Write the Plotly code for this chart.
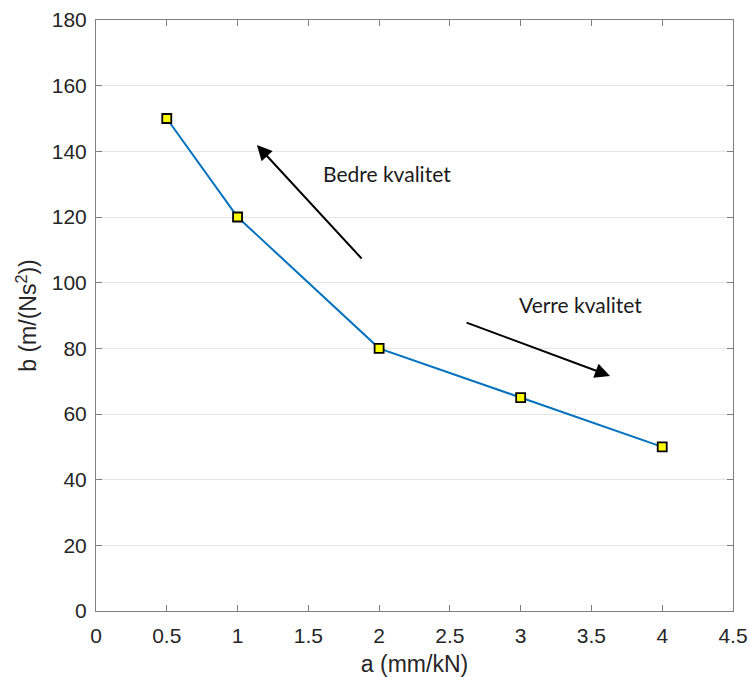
import plotly.graph_objects as go

a_vals = [0.5, 1, 2, 3, 4]
b_vals = [150, 120, 80, 65, 50]
x_ticks = [0, 0.5, 1, 1.5, 2, 2.5, 3, 3.5, 4, 4.5]
x_tick_text = ["0", "0.5", "1", "1.5", "2", "2.5", "3", "3.5", "4", "4.5"]
y_ticks = [0, 20, 40, 60, 80, 100, 120, 140, 160, 180]

fig = go.Figure()
fig.add_trace(go.Scatter(
    x=a_vals, y=b_vals, mode="lines+markers",
    line=dict(color="#0072BD", width=2),
    marker=dict(symbol="square", size=9, color="#FFFF00",
                line=dict(color="black", width=1.8)),
    showlegend=False,
))

axis_common = dict(
    showline=True, linecolor="#7f7f7f", linewidth=1, mirror="ticks",
    ticks="inside", ticklen=6, tickcolor="#7f7f7f",
    tickfont=dict(family="Liberation Sans, Arial", size=21, color="#262626"),
    zeroline=False, automargin=False,
)

fig.update_xaxes(range=[0, 4.5], tickvals=x_ticks, ticktext=x_tick_text,
                 showgrid=False, ticklabelstandoff=6,
                 title=dict(text="a (mm/kN)", font=dict(family="Liberation Sans, Arial", size=23, color="#262626"), standoff=12),
                 **axis_common)
fig.update_yaxes(range=[0, 180], tickvals=y_ticks,
                 showgrid=True, gridcolor="#e6e6e6", gridwidth=1,
                 ticklabelstandoff=4,
                 title=dict(text="b (m/(Ns<sup>2</sup>))", font=dict(family="Liberation Sans, Arial", size=23, color="#262626"), standoff=8),
                 **axis_common)

txt_font = dict(family="Lato, Carlito, Calibri, sans-serif", size=21, color="#1a1a1a")
fig.add_annotation(x=1.137, y=141.9, ax=1.886, ay=106.9, xref="x", yref="y",
                   axref="x", ayref="y", showarrow=True, arrowhead=2,
                   arrowsize=1.5, arrowwidth=2, arrowcolor="black", text="")
fig.add_annotation(x=3.631, y=71.6, ax=2.607, ay=88.0, xref="x", yref="y",
                   axref="x", ayref="y", showarrow=True, arrowhead=2,
                   arrowsize=1.5, arrowwidth=2, arrowcolor="black", text="")
fig.add_annotation(x=2.056, y=133.4, xref="x", yref="y", text="Bedre kvalitet",
                   showarrow=False, font=txt_font)
fig.add_annotation(x=3.426, y=93.2, xref="x", yref="y", text="Verre kvalitet",
                   showarrow=False, font=txt_font)

fig.update_layout(
    width=750, height=677,
    margin=dict(l=96, r=17, t=20, b=66),
    plot_bgcolor="white", paper_bgcolor="white",
)
fig.write_html("out.html")
